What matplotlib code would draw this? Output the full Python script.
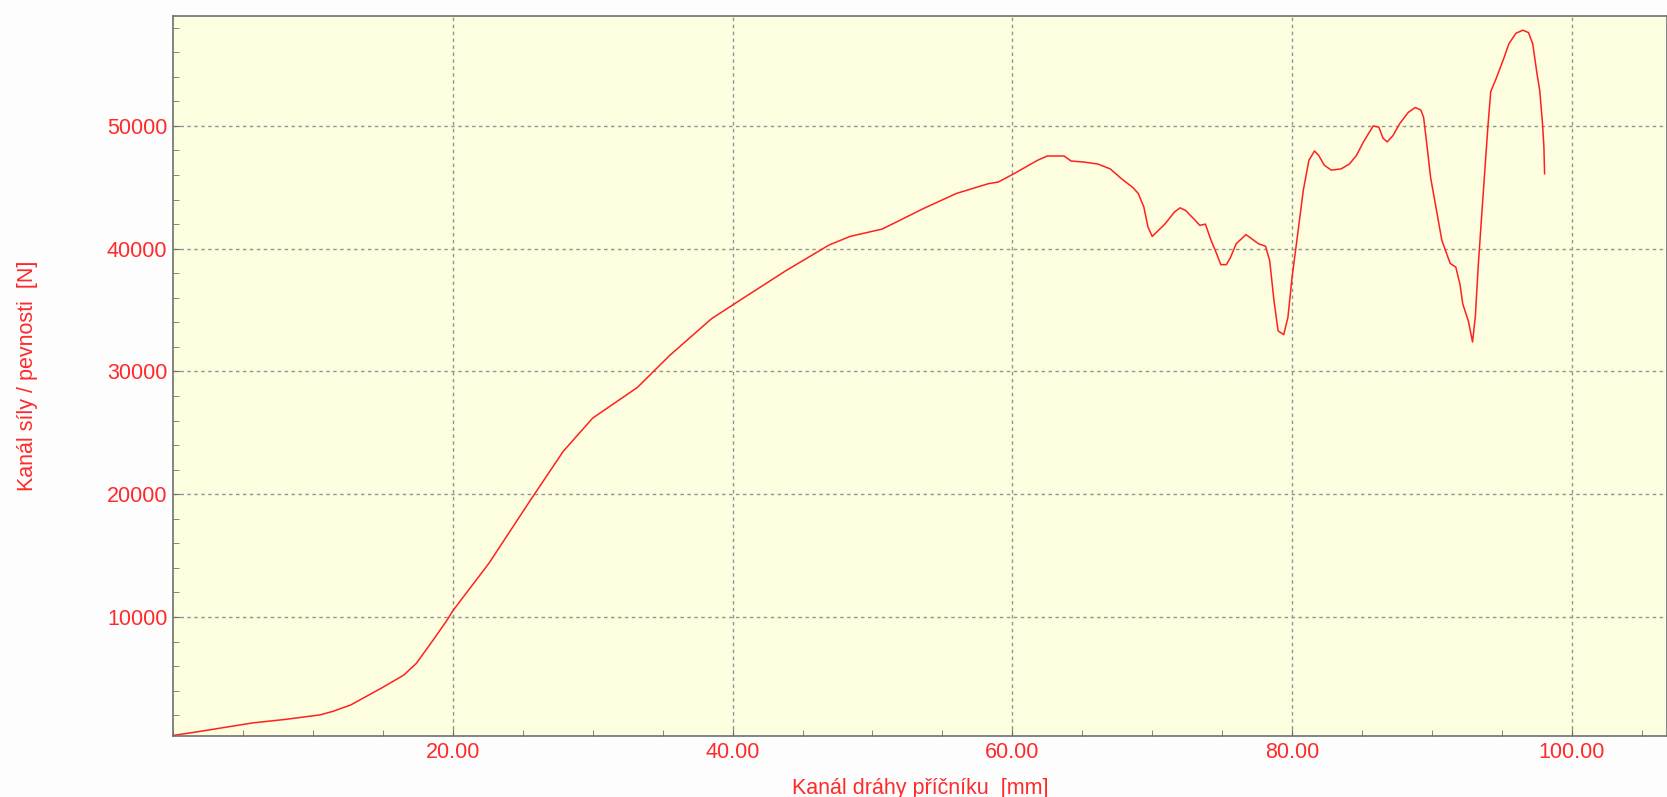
import numpy as np
import matplotlib
matplotlib.use('Agg')
import matplotlib.pyplot as plt
from matplotlib.ticker import MultipleLocator, FormatStrFormatter

# Data (draha [mm], sila [N])
draha = [0.0, 1.5, 3.9, 5.7, 8.0, 10.5, 11.4, 12.7, 15.0, 16.5, 17.4, 18.6,
         19.6, 20.0, 22.6, 25.6, 27.9, 30.0, 33.2, 35.5, 38.5, 40.8, 43.8, 46.9,
         48.4, 50.7, 53.7, 56.0, 58.3,
         59.0, 60.1, 61.8, 62.5, 63.7, 64.2, 65.1, 66.1, 67.0, 67.8, 68.6, 69.0,
         69.4, 69.7, 70.0,
         70.9, 71.6, 72.0, 72.4, 73.0, 73.4, 73.8, 74.2, 74.6, 74.9, 75.3, 75.6,
         76.0, 76.7, 77.6, 78.1, 78.4, 78.7, 79.0, 79.4, 79.7, 80.0,
         80.4, 80.8, 81.2, 81.6, 81.9, 82.3, 82.8, 83.5, 84.1, 84.6, 85.1, 85.8,
         86.2, 86.5, 86.8, 87.2, 87.7, 88.3, 88.8, 89.2, 89.4, 89.6, 89.9, 90.2,
         90.7, 91.3, 91.7, 92.0, 92.2, 92.6, 92.9,
         93.1, 93.3, 93.6, 94.0, 94.2, 94.6, 95.1, 95.5, 96.0, 96.5, 96.9, 97.2,
         97.5, 97.7, 97.9, 98.0, 98.05]

sila = [350, 600, 1040, 1370, 1650, 2020, 2300, 2830, 4270, 5270, 6230, 8130,
        9760, 10500, 14400, 19600, 23500, 26200, 28700, 31300, 34300, 36000,
        38200, 40300, 41000, 41600, 43300, 44500, 45300,
        45430, 46100, 47200, 47550, 47550, 47140, 47060, 46900, 46500, 45700,
        45000, 44500, 43400, 41750, 41000,
        42000, 43000, 43330, 43100, 42400, 41900, 42000, 40700, 39600, 38700,
        38700, 39300, 40400, 41150, 40400, 40200, 39000, 35800, 33300, 33000,
        34400, 37700,
        41200, 44750, 47200, 47960, 47600, 46800, 46400, 46500, 46900, 47600,
        48700, 50000, 49900, 49000, 48700, 49200, 50200, 51100, 51500, 51300,
        50700, 48800, 45800, 43900, 40700, 38800, 38500, 37100, 35500, 34100,
        32400,
        34500, 38500, 43500, 50000, 52800, 53900, 55400, 56700, 57550, 57800,
        57600, 56700, 54300, 52900, 50200, 48300, 46100]

x_ticks = [20, 40, 60, 80, 100]
y_ticks = [10000, 20000, 30000, 40000, 50000]

cervena = '#ff2a2a'
plt.rcParams['font.family'] = ['Liberation Sans', 'DejaVu Sans']

fig = plt.figure(figsize=(16.67, 7.97), dpi=100, facecolor='#fdfdfd')
ax = fig.add_axes([0.1038, 0.0765, 0.8962, 0.9035])
ax.set_facecolor('#fdfddf')

ax.plot(draha, sila, color='#ff2020', linewidth=1.1)

ax.set_xlim(0, 106.8)
ax.set_ylim(300, 58960)

ax.set_xticks(x_ticks)
ax.set_yticks(y_ticks)
ax.xaxis.set_major_formatter(FormatStrFormatter('%.2f'))
ax.xaxis.set_minor_locator(MultipleLocator(5))
ax.yaxis.set_minor_locator(MultipleLocator(2000))

ax.tick_params(which='both', direction='in', colors='#707070',
               labelcolor=cervena, labelsize=15.5)
ax.tick_params(which='major', length=5)
ax.tick_params(which='minor', length=4)
ax.tick_params(axis='x', pad=4)
ax.tick_params(axis='y', pad=4)

for s in ax.spines.values():
    s.set_color('#707070')
    s.set_linewidth(1.2)

# Mrizka
ax.grid(True, which='major', color='#959595', linestyle=(0, (2.5, 2.5)), linewidth=1)

fig.text(0.5520, 0.004, 'Kanál dráhy příčníku  [mm]', color=cervena,
         fontsize=15.5, ha='center', va='baseline')
fig.text(0.0165, 0.528, 'Kanál síly / pevnosti  [N]', color=cervena,
         fontsize=15.5, rotation=90, ha='center', va='center')

plt.savefig('out.png', dpi=100, facecolor=fig.get_facecolor())
